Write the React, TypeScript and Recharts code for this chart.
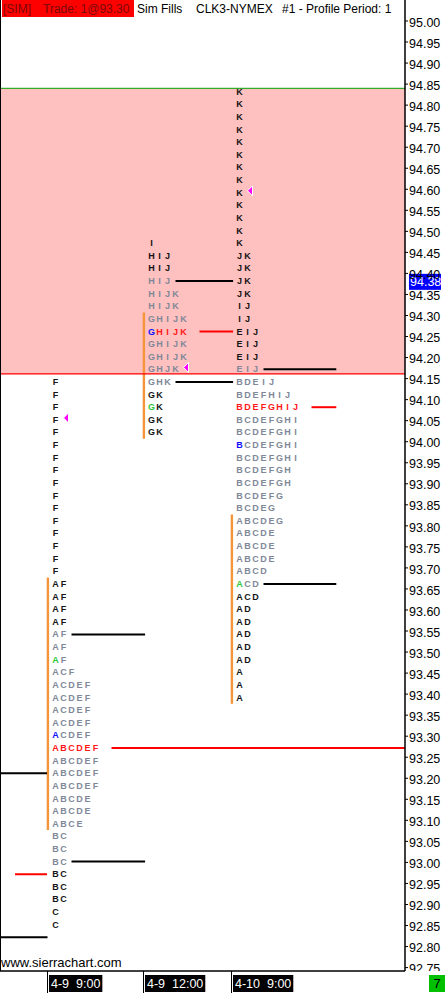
import React from "react";
import {
  ScatterChart,
  Scatter,
  XAxis,
  YAxis,
  ReferenceArea,
  ReferenceLine,
  ReferenceDot
} from "recharts";

// price axis
const Y_MAX = 95.0499;
const Y_MIN = 92.7419;
const Y_TICKS = [
  95.0, 94.95, 94.9, 94.85, 94.8, 94.75, 94.7, 94.65, 94.6, 94.55, 94.5, 94.45,
  94.4, 94.35, 94.3, 94.25, 94.2, 94.15, 94.1, 94.05, 94.0, 93.95, 93.9, 93.85,
  93.8, 93.75, 93.7, 93.65, 93.6, 93.55, 93.5, 93.45, 93.4, 93.35, 93.3, 93.25,
  93.2, 93.15, 93.1, 93.05, 93.0, 92.95, 92.9, 92.85, 92.8, 92.75
];

// time axis, in letter columns
const X_MIN = 0.0625;
const X_MAX = 50.6875;
const PROFILE_COLS = [6, 18, 29];
const DATE_LABELS = ["4-9  9:00", "4-9  12:00", "4-10  9:00"];

const ROW_STEP = 0.03;
const PROFILE_TOPS = [94.15, 94.48, 94.84];

// [letters, tone per letter, repeat]  d dark, g gray, r red, b blue, n green
const profile1Rows: [string, string, number][] = [
  ["F", "d", 16],
  ["AF", "dd", 4],
  ["AF", "gg", 2],
  ["AF", "ng", 1],
  ["ACF", "ggg", 1],
  ["ACDEF", "ggggg", 4],
  ["ACDEF", "bgggg", 1],
  ["ABCDEF", "rrrrrr", 1],
  ["ABCDEF", "gggggg", 3],
  ["ABCDE", "ggggg", 2],
  ["ABCE", "gggg", 1],
  ["BC", "gg", 3],
  ["BC", "dd", 3],
  ["C", "d", 2]
];

const profile2Rows: [string, string, number][] = [
  ["I", "d", 1],
  ["HIJ", "ddd", 2],
  ["HIJ", "ggg", 1],
  ["HIJK", "gggg", 2],
  ["GHIJK", "ggggg", 1],
  ["GHIJK", "brrrr", 1],
  ["GHIJK", "ggggg", 2],
  ["GHJK", "gggg", 1],
  ["GHK", "ggg", 1],
  ["GK", "dd", 1],
  ["GK", "nd", 1],
  ["GK", "dd", 2]
];

const profile3Rows: [string, string, number][] = [
  ["K", "d", 13],
  ["JK", "dd", 4],
  ["IJ", "dd", 2],
  ["EIJ", "ddd", 3],
  ["EIJ", "ggg", 1],
  ["BDEIJ", "ggggg", 1],
  ["BDEFHIJ", "ggggggg", 1],
  ["BDEFGHIJ", "rrrrrrrr", 1],
  ["BCDEFGHI", "gggggggg", 2],
  ["BCDEFGHI", "bggggggg", 1],
  ["BCDEFGHI", "gggggggg", 1],
  ["BCDEFGH", "ggggggg", 2],
  ["BCDEFG", "gggggg", 1],
  ["BCDEG", "ggggg", 1],
  ["ABCDEG", "gggggg", 1],
  ["ABCDE", "ggggg", 3],
  ["ABCD", "gggg", 1],
  ["ACD", "ngg", 1],
  ["ACD", "ddd", 1],
  ["AD", "dd", 5],
  ["A", "d", 3]
];

// value area per profile
const VA_HIGH = [93.67, 94.3, 93.82];
const VA_LOW = [93.1, 94.03, 93.4];

// horizontal marks: price, from col, to col, kind
const MARK_PRICES = [93.55, 93.28, 93.01, 94.39, 94.27, 94.15, 94.18, 94.09, 93.67, 93.22, 92.98, 92.83];
const MARK_FROM = [9, 14, 9, 22, 25, 22, 33, 39, 33, 0.0625, 1.94, 0.0625];
const MARK_TO = [18.2, 50.6875, 18.2, 29.2, 29.2, 29.2, 42.1, 42.1, 42.1, 5.94, 5.94, 6.0];
const MARK_KIND = ["k", "r", "k", "k", "r", "k", "k", "r", "k", "k", "r", "k"];

// close markers
const CLOSE_PRICES = [94.06, 94.18, 94.6];
const CLOSE_COLS = [8, 23, 31];

const RANGE_HIGH = 94.84;
const RANGE_LOW = 94.161;
const LAST_PRICE = 94.38;

const TONES: Record<string, string> = {
  d: "#141414",
  g: "#7f8898",
  r: "#ff1818",
  b: "#1010ff",
  n: "#2ec83a"
};

const ROW_OFF = 0.008; // letter centre sits a bit under its row price
const PLOT_BOTTOM = 971;
const FONT = "'Liberation Sans', Arial, sans-serif";

function buildLetters(rows: [string, string, number][], top: number, col: number) {
  const out: any[] = [];
  let i = 0;
  rows.forEach(([s, tones, n]) => {
    for (let r = 0; r < n; r++) {
      const price = +(top - i * ROW_STEP).toFixed(2);
      s.split("").forEach((ch, k) => {
        out.push({ x: col + 1 + k, y: price, ch, tone: tones[k] });
      });
      i++;
    }
  });
  return out;
}

const letters = [
  ...buildLetters(profile1Rows, PROFILE_TOPS[0], PROFILE_COLS[0]),
  ...buildLetters(profile2Rows, PROFILE_TOPS[1], PROFILE_COLS[1]),
  ...buildLetters(profile3Rows, PROFILE_TOPS[2], PROFILE_COLS[2])
];

const closes = CLOSE_PRICES.map((p, i) => ({ x: CLOSE_COLS[i], y: p }));

const Letter = (props: any) => {
  const { cx, cy, payload } = props;
  return (
    <text
      x={cx}
      y={cy + 3.4}
      textAnchor="middle"
      dominantBaseline="central"
      fontFamily={FONT}
      fontWeight="bold"
      fontSize={9}
      fill={TONES[payload.tone]}
    >
      {payload.ch}
    </text>
  );
};

const Triangle = (props: any) => {
  const { cx, cy } = props;
  const y = cy + 1.5;
  return (
    <polygon
      points={`${cx},${y} ${cx + 5},${y - 5} ${cx + 5},${y + 5}`}
      fill="#ff00ff"
      stroke="#fff"
      strokeWidth={1}
    />
  );
};

const PriceTick = (props: any) => {
  const { x, y, payload } = props;
  const top = y - 10;
  return (
    <svg x={x} y={top} width={40} height={Math.max(0, Math.min(20, PLOT_BOTTOM - top))} overflow="hidden">
      <text
        x={0}
        y={11.7}
        dominantBaseline="central"
        fontFamily={FONT}
        fontSize={12.5}
        fill="#000"
      >
        {Number(payload.value).toFixed(2)}
      </text>
    </svg>
  );
};

const glyphW: Record<string, number> = { "-": 0.333, " ": 0.278, ":": 0.278 };

const DateTick = (props: any) => {
  const { x, y, index } = props;
  const label = DATE_LABELS[index] || "";
  const w =
    label.split("").reduce((s, c) => s + (glyphW[c] ?? 0.556), 0) * 12.5 + 4;
  return (
    <g>
      <line x1={x} y1={y} x2={x} y2={y + 22} stroke="#000" strokeWidth={1} />
      <rect x={x + 1.5} y={y + 4} width={w} height={17} fill="#000" />
      <text
        x={x + 3.5}
        y={y + 12.8}
        dominantBaseline="central"
        fontFamily={FONT}
        fontSize={12.5}
        fill="#fff"
        style={{ whiteSpace: "pre" }}
      >
        {label}
      </text>
    </g>
  );
};

const LastPrice = (props: any) => {
  const { cx, cy } = props;
  return (
    <g>
      <rect x={cx + 4} y={cy - 8} width={32} height={16} fill="#0000ff" />
      <text
        x={cx + 5}
        y={cy}
        dominantBaseline="central"
        fontFamily={FONT}
        fontSize={12.5}
        fill="#fff"
      >
        {LAST_PRICE.toFixed(2)}
      </text>
    </g>
  );
};

export default function App() {
  return (
    <div
      style={{
        position: "absolute",
        left: 0,
        top: 0,
        width: 446,
        height: 993,
        background: "#fff",
        overflow: "hidden",
        fontFamily: FONT
      }}
    >
      <ScatterChart
        width={446}
        height={993}
        margin={{ top: 0, right: 0, bottom: 0, left: 0 }}
      >
        <XAxis
          type="number"
          dataKey="x"
          domain={[X_MIN, X_MAX]}
          ticks={PROFILE_COLS}
          interval={0}
          height={22}
          tickSize={0}
          tickMargin={0}
          tickLine={false}
          axisLine={{ stroke: "#000", strokeWidth: 1.5 }}
          tick={<DateTick />}
        />
        <YAxis
          type="number"
          dataKey="y"
          orientation="right"
          domain={[Y_MIN, Y_MAX]}
          ticks={Y_TICKS}
          interval={0}
          width={41}
          tickSize={3}
          tickMargin={1}
          axisLine={{ stroke: "#000", strokeWidth: 1.5 }}
          tickLine={{ stroke: "#000" }}
          tick={<PriceTick />}
        />
        <ReferenceArea
          y1={RANGE_LOW}
          y2={RANGE_HIGH}
          fill="#ffc0c0"
          fillOpacity={1}
          stroke="none"
        />
        <ReferenceLine y={RANGE_HIGH} stroke="#00a000" strokeWidth={1} />
        <ReferenceLine y={RANGE_LOW} stroke="#ff0000" strokeWidth={1.2} />
        <ReferenceLine x={X_MIN} stroke="#000" strokeWidth={2} />
        {PROFILE_COLS.map((c, i) => (
          <ReferenceArea
            key={"va" + i}
            x1={c - 0.1}
            x2={c + 0.2}
            y1={VA_LOW[i] - ROW_OFF - ROW_STEP / 2}
            y2={VA_HIGH[i] - ROW_OFF + ROW_STEP / 2}
            fill="#f5953a"
            fillOpacity={1}
            stroke="none"
          />
        ))}
        {MARK_PRICES.map((p, i) => (
          <ReferenceLine
            key={"m" + i}
            segment={[
              { x: MARK_FROM[i], y: p - ROW_OFF },
              { x: MARK_TO[i], y: p - ROW_OFF }
            ]}
            stroke={MARK_KIND[i] === "r" ? "#ff0000" : "#000"}
            strokeWidth={2}
          />
        ))}
        <Scatter
          data={letters}
          shape={<Letter />}
          isAnimationActive={false}
        />
        <Scatter
          data={closes}
          shape={<Triangle />}
          isAnimationActive={false}
        />
        <ReferenceDot
          x={X_MAX}
          y={LAST_PRICE}
          r={0}
          shape={<LastPrice />}
        />
      </ScatterChart>

      <div
        style={{
          position: "absolute",
          left: 2,
          top: 0,
          width: 132,
          height: 17,
          background: "#ff0000"
        }}
      />
      <div style={{ position: "absolute", left: 3, top: 2, fontSize: 12, color: "#7a0a0a", whiteSpace: "pre", lineHeight: "14px" }}>
        [SIM]
      </div>
      <div style={{ position: "absolute", left: 43, top: 2, fontSize: 12, color: "#7a0a0a", whiteSpace: "pre", lineHeight: "14px" }}>
        Trade: 1@93.30
      </div>
      <div style={{ position: "absolute", left: 137, top: 2, fontSize: 12, color: "#000", whiteSpace: "pre", lineHeight: "14px" }}>
        Sim Fills
      </div>
      <div style={{ position: "absolute", left: 196, top: 2, fontSize: 12, color: "#000", whiteSpace: "pre", lineHeight: "14px" }}>
        CLK3-NYMEX
      </div>
      <div style={{ position: "absolute", left: 282, top: 2, fontSize: 12, color: "#000", whiteSpace: "pre", lineHeight: "14px" }}>
        #1 - Profile Period: 1
      </div>
      <div style={{ position: "absolute", left: 1, top: 955, fontSize: 13, color: "#000", lineHeight: "16px" }}>
        www.sierrachart.com
      </div>
      <div
        style={{
          position: "absolute",
          left: 429,
          top: 975,
          width: 16,
          height: 17,
          background: "#00c000",
          color: "#000",
          fontSize: 13,
          textAlign: "center",
          lineHeight: "17px"
        }}
      >
        7
      </div>
    </div>
  );
}
